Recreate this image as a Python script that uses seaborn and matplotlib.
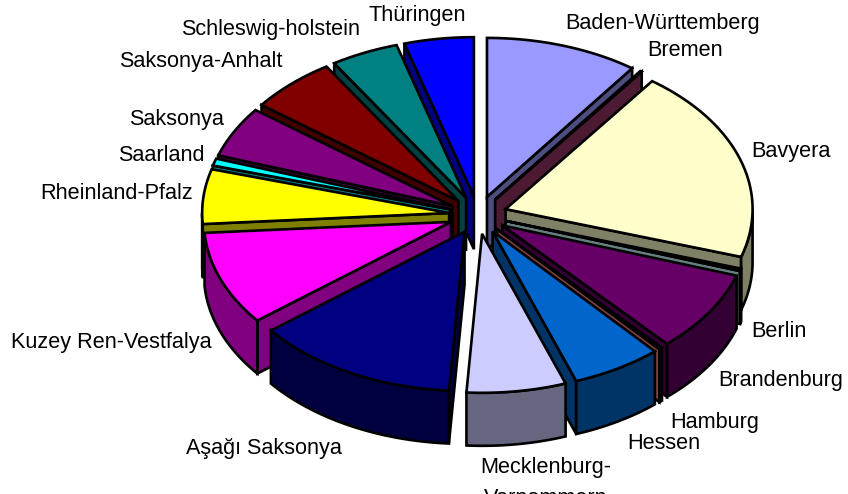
import numpy as np
import matplotlib
matplotlib.use("Agg")
import matplotlib.pyplot as plt
import seaborn as sns

# slice values, clockwise from 12 o'clock
states = ["Baden-Württemberg", "Bremen", "Bavyera", "Berlin", "Brandenburg", "Hamburg", "Hessen",
          "Mecklenburg-\nVorpommern", "Aşağı Saksonya", "Kuzey Ren-Vestfalya", "Rheinland-Pfalz",
          "Saarland", "Saksonya", "Saksonya-Anhalt", "Schleswig-holstein", "Thüringen"]
values = [35.7, 0.4, 70.5, 0.9, 29.5, 0.8, 21.1, 23.2, 47.6, 34.1, 19.8, 2.6, 18.4, 20.4, 15.8, 16.2]
slice_colors = ["#9999FF", "#993366", "#FFFFCC", "#CCFFFF", "#660066", "#FF8080", "#0066CC", "#CCCCFF",
                "#000080", "#FF00FF", "#FFFF00", "#00FFFF", "#800080", "#800000", "#008080", "#0000FF"]

# label anchors in pixels
label_xy = [(663, 24), (685, 50), (791, 151), (779, 331), (781, 380), (715, 422), (664, 443),
            (546, 483), (264, 448), (111, 342), (117, 193), (161, 155), (177, 119), (201, 62),
            (271, 29), (417, 15)]

CX, CY = 478, 215
RX, RY = 247, 159
EX, EY = 29, 19
DEPTH = 53
LW = 1.9

sns.set_theme(style="white")
plt.rcParams["font.family"] = ["Liberation Sans", "DejaVu Sans"]
palette = sns.color_palette(slice_colors)

fig, ax = plt.subplots(figsize=(8.48, 4.94), dpi=100)
ax.set_position([0, 0, 1, 1])
ax.set_xlim(0, 848)
ax.set_ylim(494, 0)
ax.axis("off")

vals = np.array(values)
angles = vals / vals.sum() * 2 * np.pi
ends = np.cumsum(angles)
starts = ends - angles
mids = (starts + ends) / 2


def face(xs, ys, color, z):
    ax.fill(xs, ys, facecolor=color, edgecolor="black", linewidth=LW, joinstyle="miter", zorder=z)


# back slices first, so that the front ones cover them
order = np.argsort(-np.cos(mids))
for z, i in enumerate(order):
    ax0 = CX + EX * np.sin(mids[i])
    ay0 = CY - EY * np.cos(mids[i])
    t = np.linspace(starts[i], ends[i], max(int(np.degrees(angles[i])) * 2, 2))
    ex = ax0 + RX * np.sin(t)
    ey = ay0 - RY * np.cos(t)
    dark = tuple(np.array(palette[i]) * 0.5)
    base = z * 10

    # cut faces, only those turned towards us
    if np.sin(starts[i]) < 0:
        face([ax0, ex[0], ex[0], ax0], [ay0, ey[0], ey[0] + DEPTH, ay0 + DEPTH], dark, base)
    if np.sin(ends[i]) > 0:
        face([ax0, ex[-1], ex[-1], ax0], [ay0, ey[-1], ey[-1] + DEPTH, ay0 + DEPTH], dark, base)
    # outer wall, same thing
    front = np.cos(t) <= 0
    if front.sum() > 1:
        face(np.r_[ex[front], ex[front][::-1]], np.r_[ey[front], ey[front][::-1] + DEPTH], dark, base + 1)
    # top
    face(np.r_[ax0, ex], np.r_[ay0, ey], palette[i], base + 2)

for name, (x, y) in zip(states, label_xy):
    ax.text(x, y, name, ha="center", va="center", fontsize=15.6, color="black", zorder=1000,
            linespacing=1.65)

fig.savefig("out.png", dpi=100, facecolor="white")
